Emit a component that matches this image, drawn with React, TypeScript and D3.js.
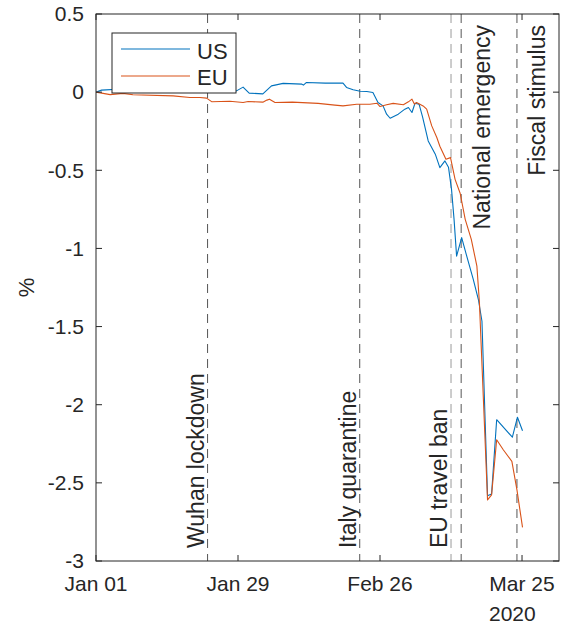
import React from 'react';
import * as d3 from 'd3';

// days since Jan 01 2020 (fractional where the line bends between days)
const usDays = [0, 1.1, 5, 10, 15, 20, 25, 27.7, 29, 30.2, 32.9, 34.6, 36.9, 40.6, 40.9, 41.5, 45.2, 48.7, 49.4, 50.7, 52.1, 53.4, 54.6, 55.6, 56.6, 57.3, 58, 59.6, 60.9, 61.6, 62.3, 62.9, 63.7, 64.4, 65.5, 66.9, 67.8, 68.8, 69.5, 70.1, 70.6, 71.1, 72.1, 73.1, 74.4, 75.4, 76.1, 77.2, 78, 79, 82.1, 83.1, 84.1];
const usValues = [0, 0.013, 0.02, 0.02, 0.015, 0.02, 0.015, 0.008, 0.032, -0.006, -0.011, 0.04, 0.056, 0.051, 0.045, 0.062, 0.058, 0.058, 0.03, 0.015, 0.006, 0.004, -0.002, -0.066, -0.088, -0.141, -0.167, -0.141, -0.109, -0.098, -0.13, -0.071, -0.077, -0.16, -0.312, -0.397, -0.483, -0.44, -0.48, -0.622, -0.814, -1.049, -0.931, -1.049, -1.199, -1.327, -1.466, -2.583, -2.571, -2.096, -2.208, -2.08, -2.167];

const euDays = [0, 2.8, 5.3, 7.3, 15.2, 18.5, 20.5, 21.8, 22.8, 26.4, 29, 30, 32.9, 33.7, 34.2, 35.3, 38.7, 43.8, 47.1, 48.7, 51.4, 54, 55.4, 56, 57.3, 58.6, 60.6, 61.6, 62.3, 62.8, 63.2, 64.5, 65.2, 66.2, 67.2, 67.8, 69, 69.9, 70.8, 71.8, 72.8, 74, 75.1, 75.6, 77.2, 78, 79, 80.3, 82, 83, 84.1];
const euValues = [0, -0.016, -0.008, -0.017, -0.024, -0.034, -0.034, -0.038, -0.061, -0.058, -0.066, -0.06, -0.064, -0.051, -0.045, -0.066, -0.064, -0.072, -0.083, -0.088, -0.077, -0.077, -0.071, -0.092, -0.081, -0.072, -0.081, -0.062, -0.045, -0.077, -0.066, -0.088, -0.109, -0.216, -0.29, -0.346, -0.429, -0.419, -0.558, -0.647, -0.814, -0.942, -1.113, -1.346, -2.609, -2.577, -2.224, -2.288, -2.363, -2.545, -2.785];

const eventDates = ['2020-01-23', '2020-02-22', '2020-03-11', '2020-03-13', '2020-03-24'];
const eventLabels = ['Wuhan lockdown', 'Italy quarantine', 'EU travel ban', 'National emergency', 'Fiscal stimulus'];

const xTickDates = ['2020-01-01', '2020-01-29', '2020-02-26', '2020-03-25'];
const xTickLabels = ['Jan 01', 'Jan 29', 'Feb 26', 'Mar 25'];
const yTicks = [0.5, 0, -0.5, -1, -1.5, -2, -2.5, -3];

const seriesNames = ['US', 'EU'];
const seriesColors = ['#0072BD', '#D95319'];

const W = 563, H = 626;
const left = 96, right = 559, top = 14, bottom = 561;
const axisColor = '#262626';
const font = '"Liberation Sans", Arial, Helvetica, sans-serif';

const t0 = Date.UTC(2020, 0, 1);
const toDate = (d: number) => new Date(t0 + d * 864e5);

const App = () => {
  const x = d3.scaleUtc().domain([new Date(t0), new Date(Date.UTC(2020, 3, 1, 7))]).range([left, right]);
  const y = d3.scaleLinear().domain([-3, 0.5]).range([bottom, top]);

  const line = d3.line<[number, number]>()
    .x(p => x(toDate(p[0])))
    .y(p => y(p[1]));

  const series = [
    usDays.map((d, i) => [d, usValues[i]] as [number, number]),
    euDays.map((d, i) => [d, euValues[i]] as [number, number]),
  ];

  const tick = 6;
  const lastTickX = x(new Date(xTickDates[xTickDates.length - 1] + 'T00:00:00Z'));

  return (
    <svg width={W} height={H} style={{ position: 'absolute', left: 0, top: 0, background: '#fff' }} fontFamily={font}>
      <defs>
        <clipPath id="plotclip">
          <rect x={left} y={top} width={right - left} height={bottom - top} />
        </clipPath>
      </defs>

      {/* event lines */}
      {eventDates.map((d, i) => {
        const ex = x(new Date(d + 'T00:00:00Z'));
        return (
          <line key={d} x1={ex} x2={ex} y1={top} y2={bottom}
            stroke={i === 2 ? '#9a9a9a' : '#555'} strokeWidth={1} strokeDasharray="9,6" />
        );
      })}

      {/* event labels */}
      {eventLabels.map((lab, i) => {
        const ex = x(new Date(eventDates[i] + 'T00:00:00Z'));
        const atTop = i >= 3;
        const bx = i === 3 ? ex + 29 : i === 4 ? ex + 28 : ex - 4;
        const by = atTop ? 25 : 548;
        return (
          <text key={lab} transform={`translate(${bx},${by}) rotate(-90)`}
            textAnchor={atTop ? 'end' : 'start'} fontSize={23} fill={axisColor}>{lab}</text>
        );
      })}

      {/* data */}
      <g clipPath="url(#plotclip)">
        {series.map((s, i) => (
          <path key={i} d={line(s) || ''} fill="none" stroke={seriesColors[i]} strokeWidth={1.1} strokeLinejoin="round" />
        ))}
      </g>

      {/* axes box */}
      <rect x={left} y={top} width={right - left} height={bottom - top} fill="none" stroke={axisColor} strokeWidth={1} />

      {/* y ticks */}
      {yTicks.map(v => (
        <g key={v}>
          <line x1={left} x2={left + tick} y1={y(v)} y2={y(v)} stroke={axisColor} />
          <line x1={right} x2={right - tick} y1={y(v)} y2={y(v)} stroke={axisColor} />
          <text x={84} y={y(v)} dy="0.35em" textAnchor="end" fontSize={21} fill={axisColor}>{String(v)}</text>
        </g>
      ))}

      {/* x ticks */}
      {xTickDates.map((d, i) => {
        const tx = x(new Date(d + 'T00:00:00Z'));
        return (
          <g key={d}>
            <line x1={tx} x2={tx} y1={bottom} y2={bottom - tick} stroke={axisColor} />
            <line x1={tx} x2={tx} y1={top} y2={top + tick} stroke={axisColor} />
            <text x={tx} y={591} textAnchor="middle" fontSize={21} fill={axisColor}>{xTickLabels[i]}</text>
          </g>
        );
      })}
      <text x={lastTickX - 33} y={621} textAnchor="start" fontSize={21} fill={axisColor}>2020</text>

      {/* y label */}
      <text transform={`translate(34,${(top + bottom) / 2}) rotate(-90)`} textAnchor="middle" fontSize={22} fill={axisColor}>%</text>

      {/* legend */}
      <rect x={112} y={33} width={124} height={60} fill="#fff" stroke={axisColor} strokeWidth={1} />
      {seriesNames.map((n, i) => (
        <g key={n}>
          <line x1={121} x2={190} y1={49 + i * 27} y2={49 + i * 27} stroke={seriesColors[i]} strokeWidth={1.1} />
          <text x={197} y={58.5 + i * 26} fontSize={22} fill={axisColor}>{n}</text>
        </g>
      ))}
    </svg>
  );
};

export default App;
